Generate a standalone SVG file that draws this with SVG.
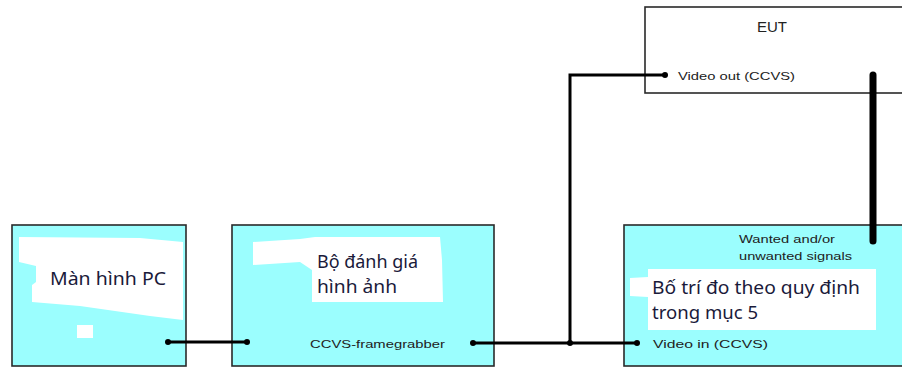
<svg xmlns="http://www.w3.org/2000/svg" width="902" height="369" viewBox="0 0 902 369">
<style>
.box{fill:#9bfefe;stroke:#2a2a2a;stroke-width:1.6}
.eut{fill:#ffffff;stroke:#2a2a2a;stroke-width:1.6}
.blob{fill:#ffffff}
.big{font-family:"Noto Sans","Liberation Sans",sans-serif;font-size:18px;fill:#1a1a3a}
.small{font-family:"Liberation Sans",Arial,sans-serif;font-size:11px;fill:#222}
.title{font-family:"Liberation Sans",Arial,sans-serif;font-size:15px;fill:#222}
.wire{fill:none;stroke:#000;stroke-width:3}
.dot{fill:#000}
</style>
<g id="eut">
<rect class="eut" x="645" y="7" width="270" height="86"/>
<text class="title" x="772" y="32" text-anchor="middle">EUT</text>
<text class="small" x="678" y="80" textLength="117" lengthAdjust="spacingAndGlyphs">Video out (CCVS)</text>
</g>
<g id="pc">
<rect class="box" x="12" y="225" width="174" height="141"/>
<polygon class="blob" points="19,237 140,238 183,242 183,320 150,316 80,306 32,302 32,285 36,282 36,266 19,262"/>
<rect class="blob" x="77" y="325" width="16" height="13"/>
<text class="big" x="50" y="285" textLength="116" lengthAdjust="spacingAndGlyphs">Màn hình PC</text>
</g>
<g id="evaluator">
<rect class="box" x="232" y="225" width="262" height="141"/>
<polygon class="blob" points="253,242 300,239 315,237 440,237 442,260 443,302 312,302 312,270 300,262 253,265"/>
<text class="big" x="317" y="268" textLength="101" lengthAdjust="spacingAndGlyphs">Bộ đánh giá</text>
<text class="big" x="317" y="293" textLength="80" lengthAdjust="spacingAndGlyphs">hình ảnh</text>
<text class="small" x="310" y="348" textLength="135" lengthAdjust="spacingAndGlyphs">CCVS-framegrabber</text>
</g>
<g id="setup">
<rect class="box" x="624" y="225" width="290" height="141"/>
<polygon class="blob" points="648,269 876,269 876,330 648,330 648,297 630,296 630,278 648,277"/>
<text class="small" x="739" y="243" textLength="96" lengthAdjust="spacingAndGlyphs">Wanted and/or</text>
<text class="small" x="739" y="260" textLength="113" lengthAdjust="spacingAndGlyphs">unwanted signals</text>
<text class="big" x="652" y="294" textLength="208" lengthAdjust="spacingAndGlyphs">Bố trí đo theo quy định</text>
<text class="big" x="652" y="319" textLength="106" lengthAdjust="spacingAndGlyphs">trong mục 5</text>
<text class="small" x="653" y="348" textLength="115" lengthAdjust="spacingAndGlyphs">Video in (CCVS)</text>
</g>
<g id="connectors">
<polyline class="wire" points="168,342 247,342"/>
<polyline class="wire" points="473,343 637,343"/>
<polyline class="wire" points="665,75 570,75 570,343"/>
<line x1="873" y1="75" x2="873" y2="241" stroke="#000" stroke-width="7" stroke-linecap="round"/>
<circle class="dot" cx="168" cy="342" r="3"/>
<circle class="dot" cx="247" cy="342" r="3"/>
<circle class="dot" cx="473" cy="343" r="3"/>
<circle class="dot" cx="637" cy="343" r="3"/>
<circle class="dot" cx="570" cy="343" r="3"/>
<circle class="dot" cx="665" cy="75" r="3"/>
</g>
</svg>
